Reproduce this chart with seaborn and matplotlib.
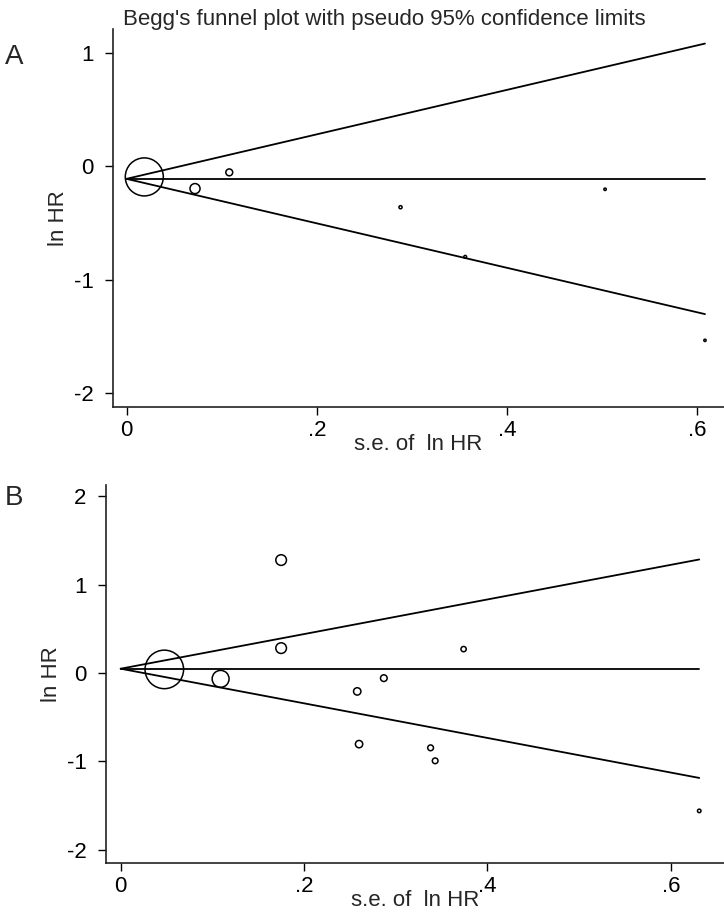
import numpy as np
import pandas as pd
import seaborn as sns
import matplotlib.pyplot as plt

# Panel A: s.e. of ln HR vs ln HR
se_a = [0.0187, 0.072, 0.108, 0.288, 0.356, 0.503, 0.608]
lnhr_a = [-0.093, -0.196, -0.053, -0.360, -0.797, -0.202, -1.533]
pooled_a = -0.11

# Panel B
se_b = [0.0476, 0.109, 0.175, 0.175, 0.258, 0.287, 0.260, 0.338, 0.343, 0.374, 0.631]
lnhr_b = [0.042, -0.065, 1.280, 0.283, -0.207, -0.057, -0.804, -0.846, -0.993, 0.272, -1.560]
pooled_b = 0.05

xticks = [0, 0.2, 0.4, 0.6]
xticklabels = ['0', '.2', '.4', '.6']
yticks_a = [-2, -1, 0, 1]
yticks_b = [-2, -1, 0, 1, 2]

sns.set_style("ticks")
plt.rcParams['font.family'] = ['Liberation Sans', 'DejaVu Sans']

W, H = 724, 918
fig = plt.figure(figsize=(W / 100, H / 100), dpi=100)


def funnel(ax, se, lnhr, pooled, big_s):
    df = pd.DataFrame({'se': se, 'lnhr': lnhr})
    df['w'] = 1 / df['se'] ** 2
    # pseudo 95% limits around the pooled estimate
    smax = df['se'].max()
    lim = pd.DataFrame({'se': [0, smax]})
    lim['hi'] = pooled + 1.96 * lim['se']
    lim['lo'] = pooled - 1.96 * lim['se']
    lim['mid'] = pooled
    for c in ['hi', 'lo', 'mid']:
        sns.lineplot(data=lim, x='se', y=c, ax=ax, color='black', lw=1.3)
    sns.scatterplot(data=df, x='se', y='lnhr', size='w', sizes=(2, big_s),
                    size_norm=(0, df['w'].max()), ax=ax, legend=False,
                    facecolor='none', edgecolor='black', linewidth=1.1, zorder=3)


def style(ax, yticks, xlim, ylim, ax_px):
    ax.set_xlim(*xlim)
    ax.set_ylim(*ylim)
    ax.set_xticks(xticks)
    ax.set_xticklabels(xticklabels)
    ax.set_yticks(yticks)
    ax.set_yticklabels([str(t) for t in yticks])
    ax.tick_params(direction='out', length=6, width=1, labelsize=16, colors='black')
    ax.tick_params(axis='y', pad=8)
    ax.tick_params(axis='x', pad=3)
    for s in ['top', 'right']:
        ax.spines[s].set_visible(False)
    for s in ['left', 'bottom']:
        ax.spines[s].set_linewidth(1.2)
        ax.spines[s].set_color('#222222')
    ax.set_xlabel('s.e. of  ln HR', fontsize=16)
    ax.set_ylabel('ln HR', fontsize=16)
    w_px, h_px = ax_px
    ax.xaxis.set_label_coords(0.5, -38 / h_px)
    ax.xaxis.label.set_va('center')
    ax.yaxis.set_label_coords(-54 / w_px, 0.5)
    ax.yaxis.label.set_va('center')


# panel A axes: left 113, right 724, top 29, bottom 407 (pixels)
axA = fig.add_axes([113 / W, 1 - 407 / H, (W - 113) / W, (407 - 29) / H])
funnel(axA, se_a, lnhr_a, pooled_a, 750)
style(axA, yticks_a, (-0.0142, 0.628), (-2.12, 1.21), (W - 113, 407 - 29))

# panel B axes: left 106, right 724, top 485, bottom 863
axB = fig.add_axes([106 / W, 1 - 863 / H, (W - 106) / W, (863 - 485) / H])
funnel(axB, se_b, lnhr_b, pooled_b, 770)
style(axB, yticks_b, (-0.016, 0.658), (-2.15, 2.13), (W - 106, 863 - 485))

fig.text(384 / W, 1 - 25 / H, "Begg's funnel plot with pseudo 95% confidence limits",
         ha='center', va='baseline', fontsize=16)
fig.text(14 / W, 1 - 57 / H, 'A', ha='center', va='center', fontsize=20)
fig.text(14 / W, 1 - 498 / H, 'B', ha='center', va='center', fontsize=20)

fig.savefig('out.png', dpi=100)
